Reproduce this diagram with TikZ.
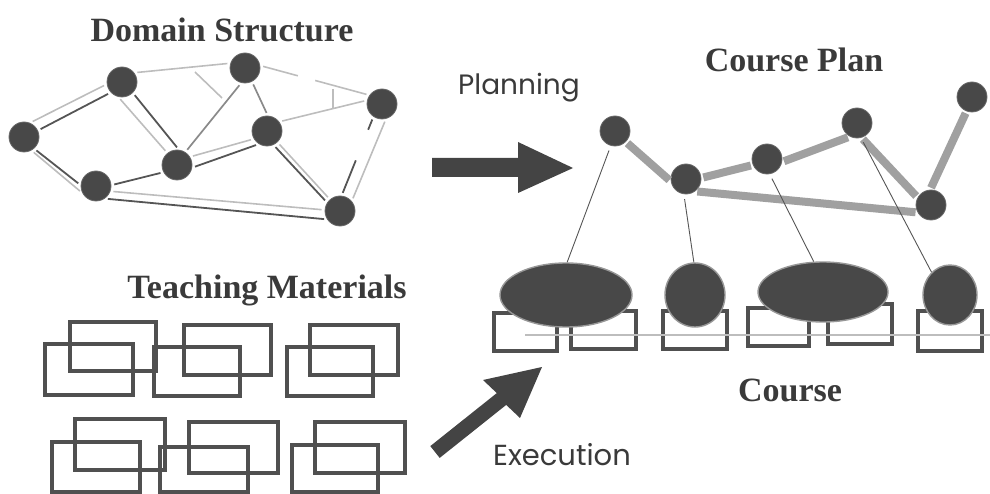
\documentclass[tikz,border=0pt]{standalone}
\usepackage{fontspec}
\setmainfont{Liberation Serif}
\newfontfamily\gothic{Poppins}
\usetikzlibrary{shapes.geometric,calc}
\definecolor{nd}{HTML}{484848}
\definecolor{ndedge}{HTML}{6A6A6A}
\definecolor{dkedge}{HTML}{555555}
\definecolor{mdedge}{HTML}{8A8A8A}
\definecolor{ltedge}{HTML}{BDBDBD}
\definecolor{bargray}{HTML}{A0A0A0}
\definecolor{boxline}{HTML}{505050}
\definecolor{txt}{HTML}{3A3A3A}
\definecolor{arrowgray}{HTML}{444444}
\begin{document}
\begin{tikzpicture}[x=1pt,y=-1pt,
  dnode/.style={circle, fill=nd, draw=ndedge, line width=0.8pt, minimum size=30pt, inner sep=0pt},
  shapenode/.style={ellipse, fill=nd, draw=ndedge!70!white, line width=1.4pt, inner sep=0pt},
  dk/.style={draw=dkedge, line width=1.8pt, shorten <=3pt, shorten >=3pt},
  md/.style={draw=mdedge, line width=1.7pt, shorten <=3pt, shorten >=3pt},
  lt/.style={draw=ltedge, line width=1.6pt, shorten <=3pt, shorten >=3pt},
  bar/.style={draw=bargray, line width=8pt, shorten <=2pt, shorten >=2pt},
  thinlink/.style={draw=dkedge, line width=0.9pt, shorten <=5pt},
  matbox/.style={draw=boxline, line width=4.4pt},
  crsbox/.style={draw=boxline, fill=white, line width=3.2pt},
  title/.style={font=\fontsize{34}{36}\selectfont\bfseries, text=txt, inner sep=0pt},
  label/.style={font=\gothic\fontsize{28}{30}\selectfont, text=txt, inner sep=0pt},
  bigarrow/.style={fill=arrowgray, draw=none}
]
\useasboundingbox (0,0) rectangle (990,494);

% ---------- Domain Structure ----------
\node[title] (tDS) at (222,30) {Domain Structure};
\node[dnode] (A) at (24,137) {};
\node[dnode] (B) at (122,82) {};
\node[dnode] (C) at (245,68) {};
\node[dnode] (D) at (382,104) {};
\node[dnode] (E) at (267,131) {};
\node[dnode] (F) at (177,165) {};
\node[dnode] (G) at (96,186) {};
\node[dnode] (H) at (340,211) {};
\coordinate (s1) at (195,72);
\coordinate (s2) at (222,98);
\coordinate (t1) at (333,89);
\coordinate (t2) at (333,108);

\draw[lt] (A.67) -- (B.188);
\draw[dk] (A.25) -- (B.223);
\draw[lt] (B.37) -- (C.162);
\draw[lt, dash pattern=on 36pt off 18pt on 80pt] (C.9) -- (D.145);
\draw[lt] (E.37) -- (D.166);
\draw[lt, shorten <=0pt, shorten >=0pt] (s1) -- (s2);
\draw[lt, shorten <=0pt, shorten >=0pt] (t1) -- (t2);
\draw[lt] (B.256) -- (F.129);
\draw[dk] (B.315) -- (F.83);
\draw[md] (C.256) -- (F.57);
\draw[md] (C.297) -- (E.87);
\draw[lt] (F.32) -- (E.211);
\draw[dk] (F.350) -- (E.238);
\draw[dk] (G.3) -- (F.208);
\draw[dk] (A.311) -- (G.177);
\draw[lt] (A.299) -- (G.207);
\draw[lt] (G.340) -- (H.176);
\draw[dk] (G.305) -- (H.213);
\draw[dk] (E.295) -- (H.147);
\draw[lt] (E.313) -- (H.131);
\draw[dk, dash pattern=on 11pt off 33pt on 45pt] (D.236) -- (H.84);
\draw[lt] (D.285) -- (H.40);

% ---------- Planning arrow ----------
\node[label] (tPlan) at (519,88) {Planning};
\fill[bigarrow] (432,158) -- (518,158) -- (518,142) -- (573,168) -- (518,193) -- (518,177) -- (432,177) -- cycle;

% ---------- Course Plan ----------
\node[title] (tCP) at (794,60) {Course Plan};
\node[dnode] (P1) at (615,131) {};
\node[dnode] (P2) at (686,179) {};
\node[dnode] (P3) at (767,159) {};
\node[dnode] (P4) at (857,123) {};
\node[dnode] (P5) at (931,205) {};
\node[dnode] (P6) at (972,97) {};
\draw[bar] (P1.315) -- (P2.189);
\draw[bar] (P2.4) -- (P3.203);
\draw[bar] (P3.349) -- (P4.242);
\draw[bar] (P4.287) -- (P5.151);
\draw[bar] (P5.93) -- (P6.249);
\draw[bar] (P2.307) -- (P5.209);

% ---------- Course ----------
\draw[crsbox] (494,313) rectangle (557,351);
\draw[crsbox] (571,311) rectangle (636,349);
\draw[crsbox] (663,311) rectangle (727,349);
\draw[crsbox] (748,308) rectangle (809,346);
\draw[crsbox] (828,304) rectangle (892,344);
\draw[crsbox] (918,311) rectangle (982,351);
\node[shapenode, minimum width=132pt, minimum height=64pt] (E1) at (566,295) {};
\node[shapenode, minimum width=60pt, minimum height=64pt] (C2) at (695,295) {};
\node[shapenode, minimum width=130pt, minimum height=60pt] (E3) at (823,292) {};
\node[shapenode, minimum width=54pt, minimum height=60pt] (C4) at (950,295) {};
\coordinate (L0) at (525,335);
\coordinate (L1) at (990,335);
\draw[draw=ltedge, line width=1.3pt] (L0) -- (L1);
\draw[thinlink] (P1.254) -- (E1.88);
\draw[thinlink] (P2.262) -- (C2.92);
\draw[thinlink] (P3.280) -- (E3.107);
\draw[thinlink] (P4.285) -- (C4.129);
\node[title] (tC) at (790,390) {Course};

% ---------- Teaching Materials ----------
\node[title] (tTM) at (267,290) {Teaching Materials};
\draw[matbox] (45,344) rectangle (133,395);
\draw[matbox] (70,322) rectangle (156,371);
\draw[matbox] (154,347) rectangle (240,396);
\draw[matbox] (184,325) rectangle (271,375);
\draw[matbox] (287,347) rectangle (373,396);
\draw[matbox] (310,325) rectangle (398,375);
\draw[matbox] (52,442) rectangle (140,492);
\draw[matbox] (75,419) rectangle (165,470);
\draw[matbox] (160,447) rectangle (248,492);
\draw[matbox] (189,422) rectangle (278,473);
\draw[matbox] (292,445) rectangle (378,492);
\draw[matbox] (315,422) rectangle (405,473);

% ---------- Execution arrow ----------
\fill[bigarrow] (430.3,446.1) -- (496.8,393.1) -- (483,380) -- (542,367) -- (520,418) -- (506.2,404.9) -- (439.7,457.9) -- cycle;
\node[label, font=\gothic\fontsize{29}{31}\selectfont] (tExe) at (562,455) {Execution};
\end{tikzpicture}
\end{document}
